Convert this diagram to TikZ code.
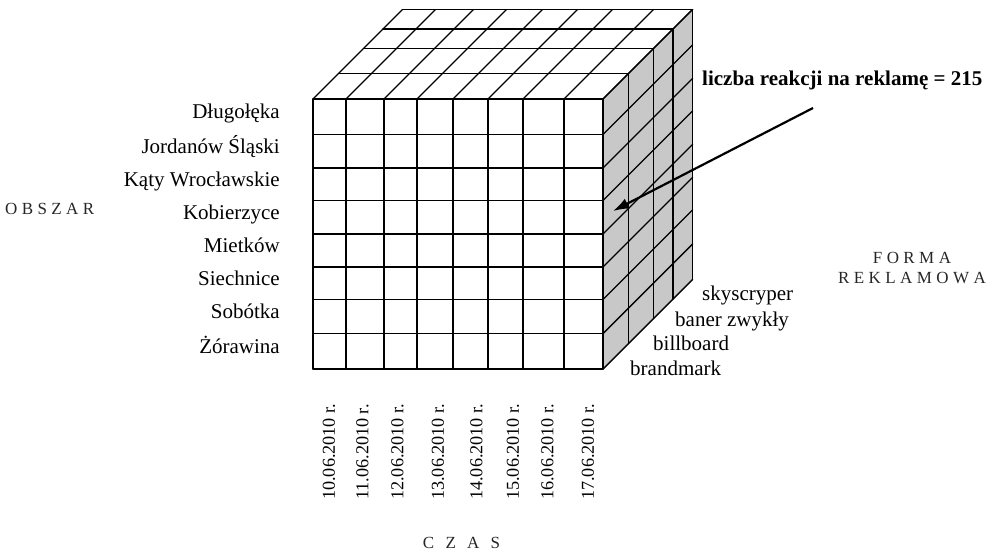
\documentclass[tikz,border=0pt]{standalone}
\usepackage{fontspec}
\setmainfont{Liberation Serif}
\usetikzlibrary{arrows.meta}
\definecolor{sidegray}{RGB}{200,200,200}
\newcommand\lsgap{\kern4.4pt}
\newcommand\wsgap{\kern11.2pt}
\begin{document}
\begin{tikzpicture}[x=1pt,y=-1pt,
  gridline/.style={line width=1.4pt, line cap=round, line join=round},
  lbl/.style={font=\fontsize{21}{25}\selectfont, inner sep=0pt},
  datelbl/.style={font=\fontsize{18.2}{22}\selectfont, inner sep=0pt, rotate=90, anchor=west},
  axislbl/.style={font=\fontsize{17}{20}\selectfont, inner sep=0pt, text=black!85},
  callout/.style={font=\bfseries\fontsize{21}{25}\selectfont, inner sep=0pt}]
\useasboundingbox (0,0) rectangle (996,551);

% grey side face
\fill[sidegray] (603,99) -- (692.5,9.5) -- (692.5,279.5) -- (603,369) -- cycle;

% front face: columns and rows
\foreach \x in {313,346,384,417,453,488,523,564,603}
  \draw[gridline] (\x,99) -- (\x,369);
\foreach \y in {99,134.5,168,200.5,234,267,299.5,333.5,369}
  \draw[gridline] (313,\y) -- (603,\y);

% top face: receding edges of every column and the depth layers
\foreach \x in {313,346,384,417,453,488,523,564,603}
  \draw[gridline] (\x,99) -- ++(89.5,-89.5);
\foreach \d in {25.5,50.5,70,89.5}
  \draw[gridline] (313+\d,99-\d) -- (603+\d,99-\d);

% side face: depth layers and receding row edges
\foreach \d in {25.5,50.5,70,89.5}
  \draw[gridline] (603+\d,99-\d) -- (603+\d,369-\d);
\foreach \y in {99,134.5,168,200.5,234,267,299.5,333.5,369}
  \draw[gridline] (603,\y) -- ++(89.5,-89.5);

% area labels (rows)
\node[lbl, anchor=base east] (r1) at (280,118.75) {Długołęka};
\node[lbl, anchor=base east] (r2) at (280,153.25) {Jordanów Śląski};
\node[lbl, anchor=base east] (r3) at (280,186.25) {Kąty Wrocławskie};
\node[lbl, anchor=base east] (r4) at (280,219.25) {Kobierzyce};
\node[lbl, anchor=base east] (r5) at (280,252.5) {Mietków};
\node[lbl, anchor=base east] (r6) at (280,285.25) {Siechnice};
\node[lbl, anchor=base east] (r7) at (280,318.5) {Sobótka};
\node[lbl, anchor=base east] (r8) at (280,353.25) {Żórawina};

% time labels (columns)
\node[datelbl] (c1) at (329,500) {10.06.2010 r.};
\node[datelbl] (c2) at (362.5,500) {11.06.2010 r.};
\node[datelbl] (c3) at (397.5,500) {12.06.2010 r.};
\node[datelbl] (c4) at (438,500) {13.06.2010 r.};
\node[datelbl] (c5) at (476.5,500) {14.06.2010 r.};
\node[datelbl] (c6) at (513,500) {15.06.2010 r.};
\node[datelbl] (c7) at (547.5,500) {16.06.2010 r.};
\node[datelbl] (c8) at (588,500) {17.06.2010 r.};

% advertising form labels (depth)
\node[lbl, anchor=base west] (f1) at (702,300) {skyscryper};
\node[lbl, anchor=base west] (f2) at (675,326.5) {baner zwykły};
\node[lbl, anchor=base west] (f3) at (653,350) {billboard};
\node[lbl, anchor=base west] (f4) at (630,375) {brandmark};

% axis titles
\node[axislbl, anchor=base west] (obszar) at (5,214) {O\lsgap B\lsgap S\lsgap Z\lsgap A\lsgap R};
\node[axislbl, anchor=base] (forma) at (912,263) {F\lsgap O\lsgap R\lsgap M\lsgap A};
\node[axislbl, anchor=base] (reklamowa) at (912,283) {R\lsgap E\lsgap K\lsgap L\lsgap A\lsgap M\lsgap O\lsgap W\lsgap A};
\node[axislbl, anchor=base] (czas) at (461.5,548) {C\wsgap Z\wsgap A\wsgap S};

% callout for a single cell
\node[callout, anchor=base west] (value) at (702,85) {liczba reakcji na reklamę = 215};
\coordinate (arrowstart) at (813,108);
\coordinate (cell) at (613,211);
\draw[line width=2.2pt, -{Latex[length=16pt,width=11pt]}] (arrowstart) -- (cell);
\end{tikzpicture}
\end{document}
